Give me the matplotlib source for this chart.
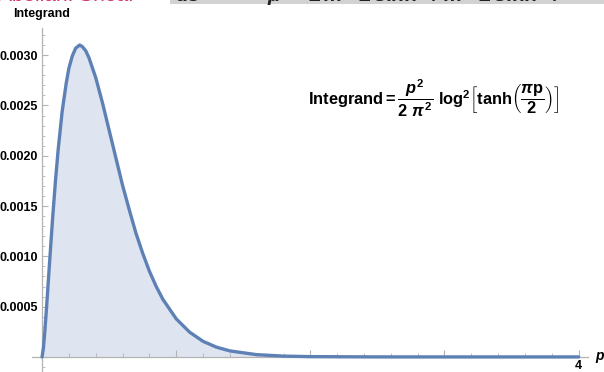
import matplotlib
matplotlib.use("Agg")
import matplotlib.pyplot as plt
from matplotlib.patches import Rectangle
from matplotlib.ticker import MultipleLocator, FixedLocator
import numpy as np

plt.rcParams['font.family'] = ['Liberation Sans', 'DejaVu Sans']
plt.rcParams['mathtext.fontset'] = 'custom'
plt.rcParams['mathtext.rm'] = 'Liberation Sans:bold'
plt.rcParams['mathtext.it'] = 'Liberation Sans:bold:italic'
plt.rcParams['mathtext.bf'] = 'Liberation Sans:bold'

# values
p_vals = [0.0, 0.01, 0.02, 0.03, 0.04, 0.05, 0.065, 0.08, 0.10, 0.12, 0.15,
          0.18, 0.20, 0.225, 0.25, 0.28, 0.30, 0.325, 0.35, 0.40, 0.45, 0.50,
          0.55, 0.60, 0.65, 0.70, 0.75, 0.80, 0.85, 0.90, 1.00, 1.10, 1.20,
          1.30, 1.40, 1.60, 1.80, 2.00, 2.50, 3.00, 3.50, 4.00]
integrand = [0.0, 0.0000874, 0.000243, 0.000426, 0.000620, 0.000821, 0.001115,
             0.001402, 0.001751, 0.002060, 0.002442, 0.002720, 0.002870,
             0.002990, 0.003068, 0.003101, 0.003085, 0.003045, 0.002973,
             0.002777, 0.002528, 0.002254, 0.001980, 0.001707, 0.001463,
             0.001230, 0.001031, 0.000853, 0.000703, 0.000574, 0.000379,
             0.000246, 0.000155, 0.0000970, 0.0000596, 0.0000223, 0.0000081,
             0.0000028, 0.0000002, 0.0, 0.0, 0.0]
y_ticks = [0.0005, 0.0010, 0.0015, 0.0020, 0.0025, 0.0030]
y_labels = ["0.0005", "0.0010", "0.0015", "0.0020", "0.0025", "0.0030"]
x_ticks = [1, 2, 3, 4]
x_labels = ["", "", "", "4"]

W, H = 604, 372
fig = plt.figure(figsize=(W / 100, H / 100), dpi=100)
ax = fig.add_axes([32 / W, 0, 556 / W, 344 / H])

line_col = '#5e81b5'
axis_col = '#b3b3b3'

ax.fill_between(p_vals, integrand, 0, color=line_col, alpha=0.2, lw=0)
ax.plot(p_vals, integrand, color=line_col, lw=2.4, solid_capstyle='round',
        solid_joinstyle='round', zorder=3)

ax.set_xlim(-0.075, 4.07)
ax.set_ylim(-0.00015, 0.00327)

for s in ['top', 'right']:
    ax.spines[s].set_visible(False)
ax.spines['left'].set_position(('data', 0))
ax.spines['bottom'].set_position(('data', 0))
for s in ['left', 'bottom']:
    ax.spines[s].set_color(axis_col)
    ax.spines[s].set_linewidth(0.9)

ax.yaxis.set_major_locator(FixedLocator(y_ticks))
ax.set_yticklabels(y_labels)
ax.yaxis.set_minor_locator(MultipleLocator(0.0001))
ax.xaxis.set_major_locator(FixedLocator(x_ticks))
ax.set_xticklabels(x_labels)
ax.xaxis.set_minor_locator(MultipleLocator(0.2))

ax.tick_params(axis='both', which='both', direction='in', color=axis_col)
ax.tick_params(axis='y', which='major', length=4, width=0.8, pad=3,
               labelsize=9)
ax.tick_params(axis='y', which='minor', length=2, width=0.6)
ax.tick_params(axis='x', which='major', length=5, width=0.8, pad=2,
               labelsize=9)
ax.tick_params(axis='x', which='minor', length=3, width=0.6)
for lab in ax.get_xticklabels() + ax.get_yticklabels():
    lab.set_fontweight('bold')

fig.text(13 / W, 1 - 14 / H, "Integrand", fontsize=9, fontweight='bold',
         va='center', ha='left')
fig.text(600 / W, 1 - 356 / H, "p", fontsize=10, fontweight='bold',
         style='italic', va='center', ha='center')

formula = (r'$\mathrm{Integrand} = \dfrac{p^{2}}{2\ \pi^{2}}\ \mathrm{log}^{2}'
           r'\left[\mathrm{tanh}\left(\dfrac{\pi\mathrm{p}}{2}\right)\right]$')
fig.text(308 / W, 1 - 98 / H, formula, fontsize=11.8, va='center', ha='left')

# cropped strip of a screenshot along the top edge
fig.patches.append(Rectangle((170 / W, 1 - 4 / H), 1, 4 / H,
                             transform=fig.transFigure, color='#d2d2d2',
                             lw=0, zorder=0))
fig.text(-2 / W, 1 - 1 / H, "Abelian: Sheaf", fontsize=15, color='#d6336c',
         va='baseline', ha='left')
fig.text(175 / W, 1 - 1 / H,
         r"$ds\ \ \ \ \ \ \ \ \ \ \ \mu\ \ \ \ \pm m\ \ \pm\sinh\ \ /\ m\ \ \pm\sinh\ \ /$",
         fontsize=15, color='#222222', va='baseline', ha='left')

fig.savefig("out.png", dpi=100)
